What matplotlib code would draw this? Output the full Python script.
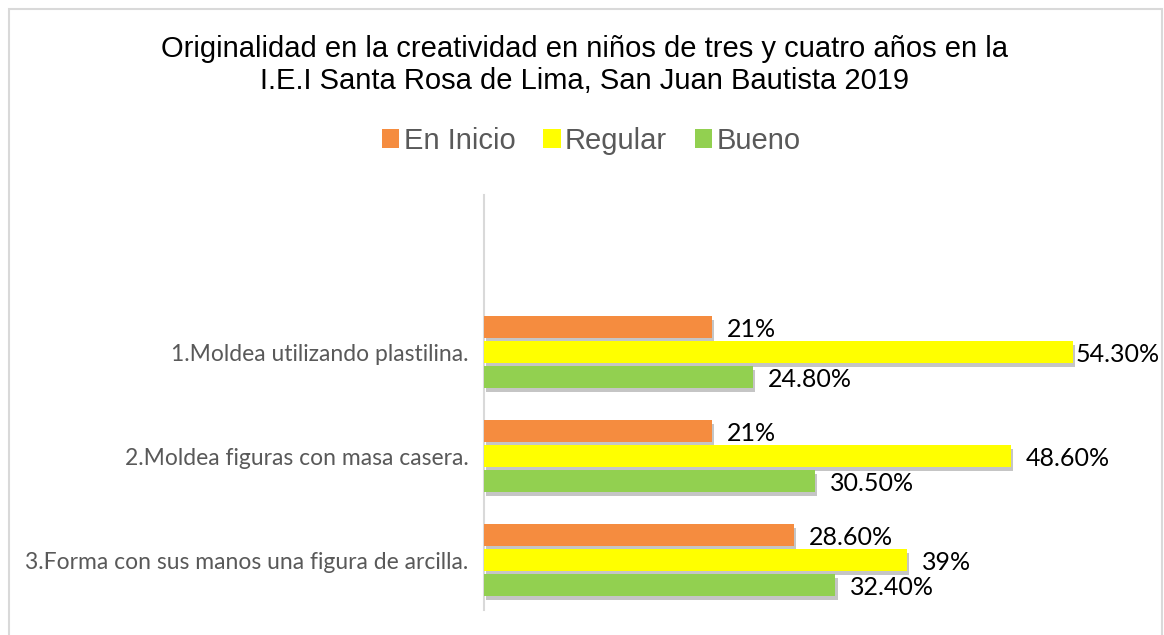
import matplotlib
matplotlib.use("Agg")
import matplotlib.pyplot as plt
import matplotlib.patheffects as pe
from matplotlib.patches import Rectangle
import numpy as np

categories = ["1.Moldea utilizando plastilina.",
              "2.Moldea figuras con masa casera.",
              "3.Forma con sus manos una figura de arcilla."]
series_names = ["En Inicio", "Regular", "Bueno"]
en_inicio = [21, 21, 28.6]
regular = [54.3, 48.6, 39]
bueno = [24.8, 30.5, 32.4]
labels_inicio = ["21%", "21%", "28.60%"]
labels_regular = ["54.30%", "48.60%", "39%"]
labels_bueno = ["24.80%", "30.50%", "32.40%"]

colors = ["#F58C3F", "#FFFF00", "#92D050"]

W, H = 1164, 635
fig = plt.figure(figsize=(W / 100, H / 100), dpi=100)

# outer frame
fig.patches.append(Rectangle((9 / W, -0.05), (1162 - 9) / W, (H - 9) / H + 0.05,
                             transform=fig.transFigure, fill=False,
                             edgecolor="#D9D9D9", linewidth=1.5))

ax_left, ax_right = 484, 1100
ax_top, ax_bot = 195, 610
ax = fig.add_axes([ax_left / W, 1 - ax_bot / H, (ax_right - ax_left) / W, (ax_bot - ax_top) / H])

px_per_unit = (1073 - 484) / 54.3
ax.set_xlim(0, (ax_right - ax_left) / px_per_unit)
ax.set_ylim(2.48, -1.51)

y = np.arange(len(categories))
h = 22 / 104
step = 25 / 104
shadow = [pe.SimplePatchShadow(offset=(1.5, -2.5), shadow_rgbFace="#7f7f7f", alpha=0.45), pe.Normal()]
all_vals = [en_inicio, regular, bueno]
all_labels = [labels_inicio, labels_regular, labels_bueno]
texts = []
for i, (vals, labs, c, name) in enumerate(zip(all_vals, all_labels, colors, series_names)):
    bars = ax.barh(y + (i - 1) * step, vals, height=h, color=c, label=name, zorder=3)
    for b in bars:
        b.set_path_effects(shadow)
    for yy, v, lab in zip(y + (i - 1) * step, vals, labs):
        t = ax.text(v + 15 / px_per_unit, yy + 0.02, lab, va="center", ha="left", fontsize=18,
                    family=["Lato", "DejaVu Sans"], color="#000000")
        texts.append((t, v))

ax.set_yticks(y)
ax.set_yticklabels(categories, fontsize=16.5, family=["Lato", "DejaVu Sans"], color="#595959")
ax.tick_params(axis="y", length=0, pad=11)
ax.set_xticks([])
for s in ["top", "right", "bottom"]:
    ax.spines[s].set_visible(False)
ax.spines["left"].set_color("#D9D9D9")
ax.spines["left"].set_linewidth(1.5)

fig.text(0.5025, 1 - 49 / H, "Originalidad en la creatividad en niños de tres y cuatro años en la",
         ha="center", va="center", fontsize=21, family=["Liberation Sans", "DejaVu Sans"], color="#000000")
fig.text(0.5025, 1 - 81 / H, "I.E.I Santa Rosa de Lima, San Juan Bautista 2019",
         ha="center", va="center", fontsize=21, family=["Liberation Sans", "DejaVu Sans"], color="#000000")

handles, lbls = ax.get_legend_handles_labels()
leg = fig.legend(handles, lbls, loc="center", bbox_to_anchor=(0.508, 1 - 141 / H), ncol=3,
                 frameon=False, prop={"family": ["Liberation Sans", "DejaVu Sans"], "size": 21},
                 handlelength=0.6, handleheight=0.6, handletextpad=0.15, columnspacing=0.95)
for t in leg.get_texts():
    t.set_color("#595959")
for p in leg.legend_handles:
    p.set_path_effects([])

# keep value labels inside the chart frame
fig.canvas.draw()
renderer = fig.canvas.get_renderer()
limit_px = 1158
for t, v in texts:
    bb = t.get_window_extent(renderer)
    if bb.x1 > limit_px:
        x_px_start = ax.transData.transform((v, 0))[0] + 3
        t.set_position((ax.transData.inverted().transform((x_px_start, 0))[0], t.get_position()[1]))

fig.savefig("out.png", dpi=100)
